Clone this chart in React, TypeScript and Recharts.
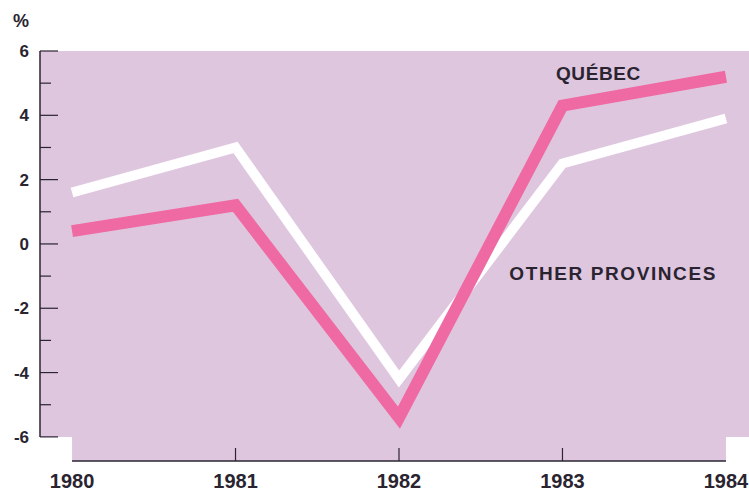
import { LineChart, Line, XAxis, YAxis, ReferenceArea, ReferenceLine, ReferenceDot } from "recharts";

const YEARS = [1980, 1981, 1982, 1983, 1984];
const QUEBEC = [0.4, 1.2, -5.4, 4.3, 5.2];
const OTHER_PROVINCES = [1.6, 3.0, -4.2, 2.5, 3.9];
const Y_TICKS = [-6, -5, -4, -3, -2, -1, 0, 1, 2, 3, 4, 5, 6];

// the frame runs a bit past the first and last year, and the x axis sits below -6
const X_MIN = 1979.804;
const X_MAX = 1984.141;
const Y_MIN = -6.75;
const Y_MAX = 6;

const INK = "#2a2430";
const PINK = "#ef69a3";
const PLUM = "#dfc6df";
const FONT = "'Liberation Sans', Arial, Helvetica, sans-serif";

const data = YEARS.map((year, i) => ({ year, quebec: QUEBEC[i], other: OTHER_PROVINCES[i] }));

function LeftTick({ x, y, payload }: any) {
  const major = payload.value % 2 === 0;
  return (
    <g>
      <line x1={x} x2={x + (major ? 18 : 11)} y1={y} y2={y} stroke={INK} strokeWidth={1.2} />
      {major && (
        <text x={x - 11} y={y} dy={6} textAnchor="end" fill={INK} fontFamily={FONT} fontSize={17} fontWeight={700}>
          {payload.value}
        </text>
      )}
    </g>
  );
}

function RightTick({ x, y, payload }: any) {
  const major = payload.value % 2 === 0;
  return <line x1={x - (major ? 14 : 9)} x2={x} y1={y} y2={y} stroke={INK} strokeWidth={1.2} />;
}

function YearTick({ x, y, payload }: any) {
  const inner = payload.value !== YEARS[0] && payload.value !== YEARS[YEARS.length - 1];
  return (
    <g>
      {inner && <line x1={x} x2={x} y1={y - 13} y2={y} stroke={INK} strokeWidth={1.2} />}
      <text x={x} y={y + 27} textAnchor="middle" fill={INK} fontFamily={FONT} fontSize={20} fontWeight={700}>
        {payload.value}
      </text>
    </g>
  );
}

function PercentLabel({ viewBox }: any) {
  return (
    <text x={viewBox.x + 21} y={viewBox.y - 24} textAnchor="middle" fill={INK} fontFamily={FONT} fontSize={18} fontWeight={700}>
      %
    </text>
  );
}

function SeriesName({ viewBox, text, spacing }: any) {
  const cx = viewBox.x + viewBox.width / 2;
  const cy = viewBox.y + viewBox.height / 2;
  return (
    <text x={cx} y={cy} dy="0.36em" textAnchor="middle" fill={INK} fontFamily={FONT} fontSize={19} fontWeight={700} letterSpacing={spacing}>
      {text}
    </text>
  );
}

export default function App() {
  return (
    <div style={{ position: "absolute", left: 0, top: 0, background: "#fff" }}>
      <LineChart width={749} height={493} data={data} margin={{ top: 51, right: 0, bottom: 0, left: 0 }}>
        <ReferenceArea yAxisId="left" x1={X_MIN} x2={X_MAX} y1={-6} y2={Y_MAX} fill={PLUM} fillOpacity={1} stroke="none" ifOverflow="visible" />
        <ReferenceArea yAxisId="left" x1={YEARS[0]} x2={YEARS[YEARS.length - 1]} y1={Y_MIN} y2={-6} fill={PLUM} fillOpacity={1} stroke="none" ifOverflow="visible" />
        <XAxis
          dataKey="year"
          type="number"
          domain={[X_MIN, X_MAX]}
          ticks={YEARS}
          interval={0}
          height={32}
          axisLine={false}
          tickLine={false}
          tickSize={0}
          tickMargin={0}
          tick={<YearTick />}
        />
        <YAxis
          yAxisId="left"
          domain={[Y_MIN, Y_MAX]}
          ticks={Y_TICKS}
          interval={0}
          width={40}
          axisLine={false}
          tickLine={false}
          tickSize={0}
          tickMargin={0}
          tick={<LeftTick />}
          label={(props: any) => <PercentLabel {...props} />}
        />
        <YAxis
          yAxisId="right"
          orientation="right"
          domain={[Y_MIN, Y_MAX]}
          ticks={Y_TICKS}
          interval={0}
          width={0}
          axisLine={false}
          tickLine={false}
          tickSize={0}
          tickMargin={0}
          tick={<RightTick />}
        />
        <ReferenceLine
          yAxisId="left"
          segment={[{ x: X_MIN, y: -6 }, { x: X_MIN, y: Y_MAX }]}
          stroke={INK}
          strokeWidth={1.5}
          ifOverflow="visible"
        />
        <ReferenceLine
          yAxisId="left"
          segment={[{ x: YEARS[0], y: Y_MIN }, { x: YEARS[YEARS.length - 1], y: Y_MIN }]}
          stroke={INK}
          strokeWidth={1.5}
          ifOverflow="visible"
        />
        <Line
          yAxisId="left"
          type="linear"
          dataKey="other"
          stroke="#ffffff"
          strokeWidth={10}
          strokeLinejoin="miter"
          strokeLinecap="butt"
          dot={false}
          activeDot={false}
          isAnimationActive={false}
        />
        <Line
          yAxisId="left"
          type="linear"
          dataKey="quebec"
          stroke={PINK}
          strokeWidth={12}
          strokeLinejoin="miter"
          strokeLinecap="butt"
          dot={false}
          activeDot={false}
          isAnimationActive={false}
        />
        <ReferenceDot yAxisId="left" x={1983.22} y={5.32} r={1} fill="none" stroke="none" label={<SeriesName text="QUÉBEC" spacing={0.6} />} />
        <ReferenceDot yAxisId="left" x={1983.31} y={-0.9} r={1} fill="none" stroke="none" label={<SeriesName text="OTHER PROVINCES" spacing={1.6} />} />
      </LineChart>
    </div>
  );
}
